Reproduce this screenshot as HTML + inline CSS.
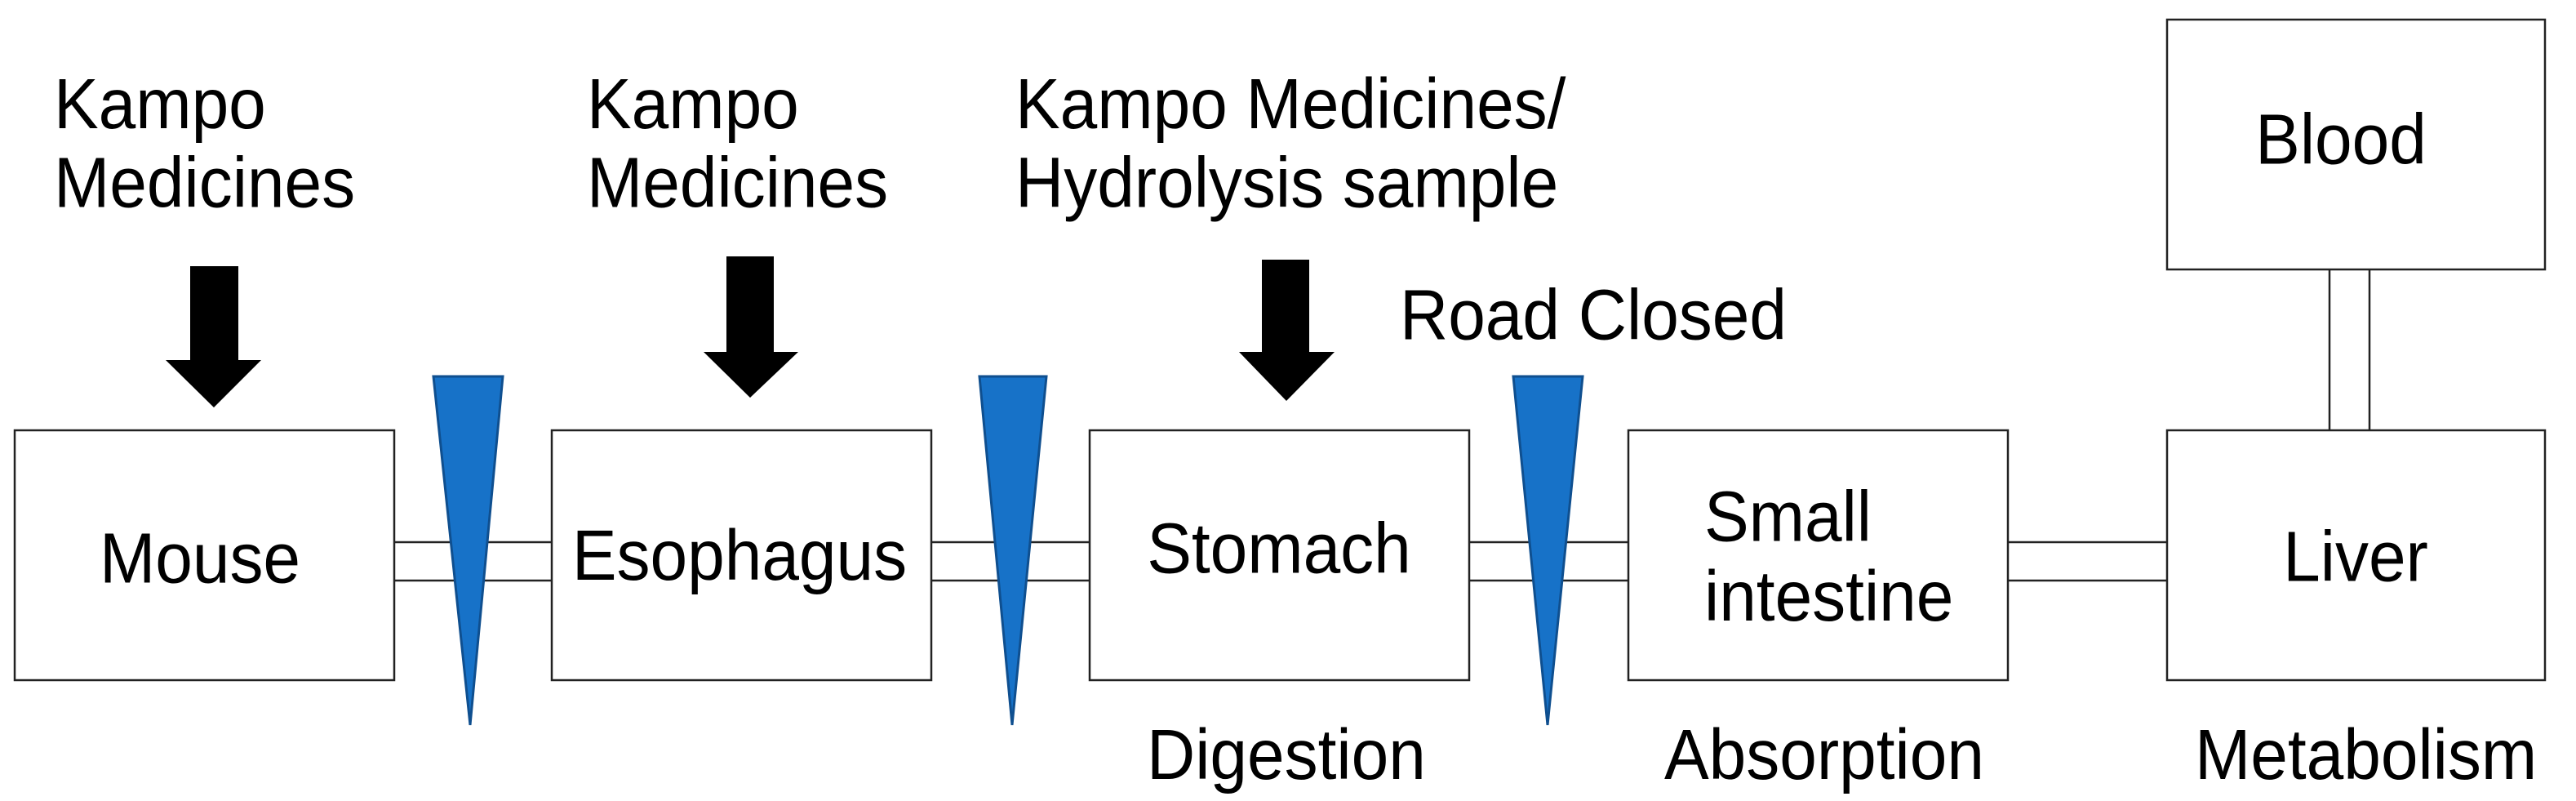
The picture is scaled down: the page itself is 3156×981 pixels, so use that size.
<!DOCTYPE html>
<html><head><meta charset="utf-8"><style>html,body{margin:0;padding:0;background:#fff}svg{display:block}</style></head>
<body>
<svg width="3156" height="981" viewBox="0 0 3156 981" xmlns="http://www.w3.org/2000/svg" font-family="Liberation Sans, Arial, sans-serif" font-size="82" fill="#000">
<g stroke="#222" stroke-width="2.5" fill="none">
<line x1="483" y1="664" x2="676" y2="664"/><line x1="483" y1="711" x2="676" y2="711"/>
<line x1="1141" y1="664" x2="1335" y2="664"/><line x1="1141" y1="711" x2="1335" y2="711"/>
<line x1="1800" y1="664" x2="1995" y2="664"/><line x1="1800" y1="711" x2="1995" y2="711"/>
<line x1="2460" y1="664" x2="2655" y2="664"/><line x1="2460" y1="711" x2="2655" y2="711"/>
<line x1="2854" y1="330" x2="2854" y2="527"/><line x1="2903" y1="330" x2="2903" y2="527"/>
<rect x="18" y="527" width="465" height="306" fill="#fff"/>
<rect x="676" y="527" width="465" height="306" fill="#fff"/>
<rect x="1335" y="527" width="465" height="306" fill="#fff"/>
<rect x="1995" y="527" width="465" height="306" fill="#fff"/>
<rect x="2655" y="527" width="463" height="306" fill="#fff"/>
<rect x="2655" y="24" width="463" height="306" fill="#fff"/>
</g>
<g fill="#1772c8" stroke="#0f4f8f" stroke-width="3">
<polygon points="531,461 616,461 576,888"/>
<polygon points="1200,461 1282,461 1240,888"/>
<polygon points="1854,461 1939,461 1896,888"/>
</g>
<g fill="#000">
<polygon points="233,326 292,326 292,441 320,441 262,499 203,441 233,441"/>
<polygon points="890,314 948,314 948,431 978,431 919,487 862,431 890,431"/>
<polygon points="1546,318 1604,318 1604,431 1635,431 1576,491 1518,431 1546,431"/>
</g>
<g transform="scale(1,1.06)">
<text x="66" y="148">Kampo</text><text x="66" y="239">Medicines</text>
<text x="719" y="148">Kampo</text><text x="719" y="239">Medicines</text>
<text x="1244" y="148">Kampo Medicines/</text><text x="1244" y="239">Hydrolysis sample</text>
<text x="1715" y="392">Road Closed</text>
<text x="245" y="673" text-anchor="middle">Mouse</text>
<text x="906" y="670" text-anchor="middle">Esophagus</text>
<text x="1567" y="662" text-anchor="middle">Stomach</text>
<text x="2088" y="625">Small</text><text x="2088" y="717">intestine</text>
<text x="2886" y="671" text-anchor="middle">Liver</text>
<text x="2868" y="189" text-anchor="middle">Blood</text>
<text x="1405" y="900">Digestion</text>
<text x="2039" y="900">Absorption</text>
<text x="2689" y="900">Metabolism</text>
</g>
</svg>
</body></html>
